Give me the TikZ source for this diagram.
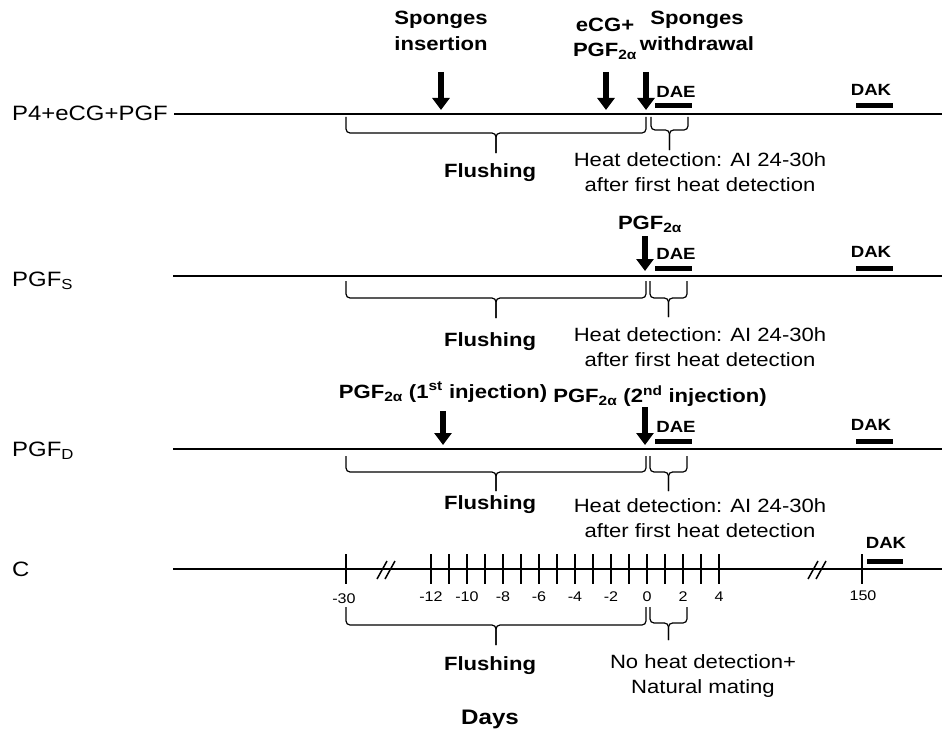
\documentclass[tikz,border=0pt]{standalone}
\usepackage{fontspec}
\setmainfont{Liberation Sans}[FakeStretch=1.15]
\usepackage{tikz}
\usetikzlibrary{arrows.meta}
\tikzstyle{txt} = [inner sep=0pt, align=center, font=\fontsize{19.2}{25.5}\selectfont]
\tikzstyle{bold} = [txt, font=\fontsize{19.2}{25.5}\selectfont\bfseries]
\tikzstyle{group} = [inner sep=0pt, anchor=west, font=\fontsize{20.8}{24}\selectfont]
\tikzstyle{periodlbl} = [inner sep=0pt, font=\fontsize{16.2}{18}\selectfont\bfseries]
\tikzstyle{daylbl} = [inner sep=0pt, font=\fontsize{14}{16}\selectfont]
\tikzstyle{timeline} = [line width=2pt]
\tikzstyle{tick} = [line width=1.5pt]
\tikzstyle{period} = [line width=5pt]
\tikzstyle{brace} = [line width=1.2pt, rounded corners=4pt]
\tikzstyle{dose} = [line width=6pt, -{Triangle[width=17pt,length=12pt]}]
% brace from x1 to x2: top, bar, tip
\newcommand{\timebrace}[5]{%
  \draw[brace] (#1,#3) -- (#1,#4) -- ({(#1+#2)/2},#4) -- ({(#1+#2)/2},#5);
  \draw[brace] (#2,#3) -- (#2,#4) -- ({(#1+#2)/2},#4) -- ({(#1+#2)/2},#5);}

\begin{document}
\begin{tikzpicture}[x=1pt, y=-1pt]
    \useasboundingbox (0,0) rectangle (942,733);
    % group labels and time lines
    \node[group] (p4) at (12,113) {P4+eCG+PGF};
    \node[group] (pgfs) at (12,281) {PGF\textsubscript{S}};
    \node[group] (pgfd) at (12,451) {PGF\textsubscript{D}};
    \node[group] (ctrl) at (12,569) {C};
    \draw[timeline] (174,114) -- (942,114);
    \foreach \y in {276,449,569} \draw[timeline] (173,\y) -- (942,\y);
    % DAE and DAK periods
    \foreach \y in {114,276,449} {
        \node[periodlbl] at (676,\y-22) {DAE};
        \draw[period] (655,\y-8) -- (692,\y-8);
        \node[periodlbl] at (871,\y-24) {DAK};
        \draw[period] (856,\y-8) -- (893,\y-8);
    }
    \node[periodlbl] (dakc) at (886,543) {DAK};
    \draw[period] (867,561) -- (903,561);
    % treatments
    \node[bold] (insertion) at (441,31) {Sponges\\insertion};
    \node[bold] (ecg) at (605,39) {eCG+\\PGF\textsubscript{2α}};
    \node[bold] (withdrawal) at (697,31) {Sponges\\withdrawal};
    \draw[dose] (441,72) -- (441,110);
    \draw[dose] (606,72) -- (606,110);
    \draw[dose] (646,72) -- (646,110);
    \node[bold] (pgf) at (650,224) {PGF\textsubscript{2α}};
    \draw[dose] (645,236) -- (645,271);
    \node[bold] (first) at (443,392) {PGF\textsubscript{2α} (1\textsuperscript{st} injection)};
    \node[bold] (second) at (660,396) {PGF\textsubscript{2α} (2\textsuperscript{nd} injection)};
    \draw[dose] (443,411) -- (443,445);
    \draw[dose] (645,407) -- (645,445);
    % day axis
    \foreach \d in {-12,...,4} \draw[tick] ({647+18*\d},554) -- ({647+18*\d},584);
    \foreach \d in {-12,-10,...,4} \node[daylbl] at ({647+18*\d},597) {\d};
    \draw[tick] (346,554) -- (346,584);
    \draw[tick] (862,554) -- (862,584);
    \node[daylbl] at (344,599) {-30};
    \node[daylbl] at (863,596) {150};
    \foreach \bx in {386,817} {
        \draw[tick] (\bx-9,579) -- (\bx+1,561);
        \draw[tick] (\bx-1,579) -- (\bx+9,561);
    }
    % braces
    \timebrace{346}{646}{117}{133}{153}
    \timebrace{651}{688}{117}{130}{150}
    \timebrace{346}{646}{281}{298}{318}
    \timebrace{650}{687}{281}{298}{317}
    \timebrace{346}{646}{456}{472}{491}
    \timebrace{650}{687}{456}{472}{491}
    \timebrace{346}{646}{607}{625}{645}
    \timebrace{650}{687}{607}{623}{640}
    \foreach \y in {173,342,505,666} \node[bold] at (490,\y) {Flushing};
    \foreach \y in {172,347,518} \node[txt] at (700,\y) {Heat detection: AI 24-30h\\after first heat detection};
    \node[txt] (mating) at (703,676) {No heat detection+\\Natural mating};
    \node[bold, font=\fontsize{21}{25}\selectfont\bfseries] (days) at (490,719) {Days};
\end{tikzpicture}
\end{document}
